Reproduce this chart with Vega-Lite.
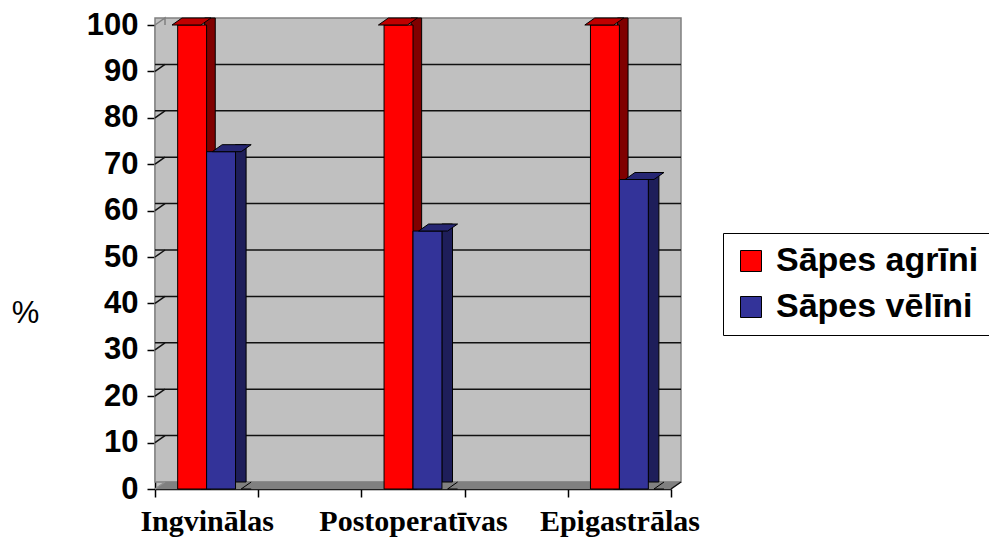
{
  "$schema": "https://vega.github.io/schema/vega-lite/v6.json",
  "autosize": "none",
  "width": 516,
  "height": 464,
  "padding": {"left": 155, "top": 25, "right": 318, "bottom": 48},
  "background": "white",
  "datasets": {
    "bars": [
      {"category": "Ingvinālas", "series": "Sāpes agrīni", "value": 100},
      {"category": "Ingvinālas", "series": "Sāpes vēlīni", "value": 72.7},
      {"category": "Postoperatīvas", "series": "Sāpes agrīni", "value": 100},
      {"category": "Postoperatīvas", "series": "Sāpes vēlīni", "value": 55.6},
      {"category": "Epigastrālas", "series": "Sāpes agrīni", "value": 100},
      {"category": "Epigastrālas", "series": "Sāpes vēlīni", "value": 66.7}
    ],
    "grid": [
      {"v": 10}, {"v": 20}, {"v": 30}, {"v": 40}, {"v": 50},
      {"v": 60}, {"v": 70}, {"v": 80}, {"v": 90}
    ]
  },
  "resolve": {"scale": {"xOffset": "independent"}},
  "layer": [
    {
      "description": "back wall",
      "data": {"values": [{}]},
      "mark": {"type": "rect", "fill": "#C0C0C0", "stroke": "#808080", "strokeWidth": 1.5, "xOffset": 10, "x2Offset": 10, "yOffset": -7, "y2Offset": -7},
      "encoding": {
        "y": {"datum": 100, "type": "quantitative", "scale": {"domain": [0, 100], "nice": false}, "title": "%"},
        "y2": {"datum": 0}
      }
    },
    {
      "description": "floor",
      "data": {"values": [{}]},
      "mark": {"type": "point", "shape": "M-258,0 L258,0 L268,-7 L-248,-7 Z", "size": 4, "filled": true, "fill": "#808080", "stroke": "#808080", "strokeWidth": 0.5, "opacity": 1},
      "encoding": {
        "x": {"datum": "Postoperatīvas", "type": "nominal", "scale": {"domain": ["Ingvinālas", " ", "Postoperatīvas", "  ", "Epigastrālas"], "paddingInner": 0, "paddingOuter": 0}, "title": null},
        "y": {"datum": 0, "type": "quantitative", "scale": {"domain": [0, 100], "nice": false}, "title": "%"}
      }
    },
    {
      "description": "gridlines on the back wall",
      "data": {"name": "grid"},
      "mark": {"type": "rule", "color": "#111111", "strokeWidth": 1.5, "xOffset": 10, "x2Offset": 10, "yOffset": -7, "y2Offset": -7},
      "encoding": {
        "y": {"field": "v", "type": "quantitative", "scale": {"domain": [0, 100], "nice": false}, "title": "%"}
      }
    },
    {
      "description": "gridlines on the side wall",
      "data": {"name": "grid"},
      "mark": {"type": "point", "shape": "M-51.6,0 L-41.6,-7", "size": 4, "filled": false, "stroke": "#111111", "strokeWidth": 1.5, "opacity": 1},
      "encoding": {
        "x": {"datum": "Ingvinālas", "type": "nominal", "scale": {"domain": ["Ingvinālas", " ", "Postoperatīvas", "  ", "Epigastrālas"], "paddingInner": 0, "paddingOuter": 0}, "title": null},
        "y": {"field": "v", "type": "quantitative", "scale": {"domain": [0, 100], "nice": false}, "title": "%"}
      }
    },
    {
      "description": "top corner of the side wall",
      "data": {"values": [{}]},
      "mark": {"type": "point", "shape": "M-51.6,0 L-41.6,-7 L-41.6,0", "size": 4, "filled": true, "fill": "#C0C0C0", "stroke": "#808080", "strokeWidth": 1.5, "opacity": 1},
      "encoding": {
        "x": {"datum": "Ingvinālas", "type": "nominal", "scale": {"domain": ["Ingvinālas", " ", "Postoperatīvas", "  ", "Epigastrālas"], "paddingInner": 0, "paddingOuter": 0}, "title": null},
        "y": {"datum": 100, "type": "quantitative", "scale": {"domain": [0, 100], "nice": false}, "title": "%"}
      }
    },
    {
      "description": "floor edges",
      "data": {"values": [{"c": "Ingvinālas", "edge": "M-51.6,0 L-41.6,-7", "col": "#909090"}, {"c": "Epigastrālas", "edge": "M51.6,0 L61.6,-7", "col": "#111111"}]},
      "mark": {"type": "point", "size": 4, "filled": false, "strokeWidth": 1.5, "opacity": 1},
      "encoding": {
        "x": {"field": "c", "type": "nominal", "scale": {"domain": ["Ingvinālas", " ", "Postoperatīvas", "  ", "Epigastrālas"], "paddingInner": 0, "paddingOuter": 0}, "title": null},
        "y": {"datum": 0, "type": "quantitative", "scale": {"domain": [0, 100], "nice": false}, "title": "%"},
        "shape": {"field": "edge", "type": "nominal", "scale": null},
        "stroke": {"field": "col", "type": "nominal", "scale": null}
      }
    },
    {
      "description": "column side faces",
      "data": {"name": "bars"},
      "mark": {"type": "bar", "yOffset": -7, "stroke": "black", "strokeWidth": 1},
      "encoding": {
        "x": {"field": "category", "type": "nominal", "scale": {"domain": ["Ingvinālas", " ", "Postoperatīvas", "  ", "Epigastrālas"], "paddingInner": 0, "paddingOuter": 0}, "title": null},
        "xOffset": {"field": "series", "type": "nominal", "scale": {"domain": ["Sāpes agrīni", "Sāpes vēlīni"], "paddingInner": 0.655, "paddingOuter": 1.107, "align": 0.804}},
        "y": {"field": "value", "type": "quantitative", "scale": {"domain": [0, 100], "nice": false}, "title": "%"},
        "fill": {"condition": {"test": "datum.series === 'Sāpes agrīni'", "value": "#800000"}, "value": "#1E1E5A"}
      }
    },
    {
      "description": "floor triangle at the foot of each side face",
      "data": {"name": "bars"},
      "mark": {"type": "point", "shape": "M24.47,0 L14.47,0 L24.47,-7", "size": 4, "filled": true, "fill": "#808080", "stroke": "black", "strokeWidth": 1, "opacity": 1},
      "encoding": {
        "x": {"field": "category", "type": "nominal", "scale": {"domain": ["Ingvinālas", " ", "Postoperatīvas", "  ", "Epigastrālas"], "paddingInner": 0, "paddingOuter": 0}, "title": null},
        "xOffset": {"field": "series", "type": "nominal", "scale": {"domain": ["Sāpes agrīni", "Sāpes vēlīni"], "paddingInner": 0, "paddingOuter": 0.783}},
        "y": {"datum": 0, "type": "quantitative", "scale": {"domain": [0, 100], "nice": false}, "title": "%"}
      }
    },
    {
      "description": "column front faces",
      "data": {"name": "bars"},
      "mark": {"type": "bar", "stroke": "black", "strokeWidth": 1},
      "encoding": {
        "x": {
          "field": "category", "type": "nominal",
          "scale": {"domain": ["Ingvinālas", " ", "Postoperatīvas", "  ", "Epigastrālas"], "paddingInner": 0, "paddingOuter": 0},
          "title": null,
          "axis": {
            "grid": false, "labelAngle": 0,
            "domainColor": "black", "domainWidth": 1.5,
            "tickColor": "black", "tickSize": 8, "tickWidth": 1.5, "tickBand": "extent",
            "labelFont": "Liberation Serif", "labelFontWeight": "bold", "labelFontSize": 30,
            "labelColor": "black", "labelPadding": 24, "labelLimit": 400,
            "labelAlign": "center"
          }
        },
        "xOffset": {"field": "series", "type": "nominal", "scale": {"domain": ["Sāpes agrīni", "Sāpes vēlīni"], "paddingInner": 0, "paddingOuter": 0.783}},
        "y": {
          "field": "value", "type": "quantitative",
          "scale": {"domain": [0, 100], "nice": false},
          "title": "%",
          "axis": {
            "titleAngle": 0, "titleFont": "Liberation Sans", "titleFontWeight": "normal",
            "titleFontSize": 31, "titleColor": "black", "titleX": -130, "titleY": 288,
            "titleAlign": "center", "titleBaseline": "middle",
            "values": [0, 10, 20, 30, 40, 50, 60, 70, 80, 90, 100], "grid": false,
            "domainColor": "black", "domainWidth": 1.5,
            "tickColor": "black", "tickSize": 8, "tickWidth": 1.5,
            "labelFont": "Liberation Sans", "labelFontWeight": "bold", "labelFontSize": 31,
            "labelColor": "black", "labelPadding": 9
          }
        },
        "color": {
          "field": "series", "type": "nominal",
          "scale": {"domain": ["Sāpes agrīni", "Sāpes vēlīni"], "range": ["#FF0000", "#333399"]},
          "legend": {
            "orient": "none", "legendX": 568, "legendY": 208, "title": null,
            "strokeColor": "black", "fillColor": "white", "padding": 11,
            "symbolType": "square", "symbolSize": 441, "symbolStrokeColor": "black", "symbolStrokeWidth": 1,
            "symbolOpacity": 1,
            "labelFont": "Liberation Sans", "labelFontWeight": "bold", "labelFontSize": 34,
            "labelColor": "black", "labelOffset": 8, "rowPadding": 12, "labelLimit": 400
          }
        }
      }
    },
    {
      "description": "column top faces",
      "data": {"name": "bars"},
      "mark": {"type": "point", "shape": "M-14.47,0 L14.47,0 L24.47,-7 L-4.53,-7 Z", "size": 4, "filled": true, "stroke": "black", "strokeWidth": 1, "opacity": 1},
      "encoding": {
        "x": {"field": "category", "type": "nominal", "scale": {"domain": ["Ingvinālas", " ", "Postoperatīvas", "  ", "Epigastrālas"], "paddingInner": 0, "paddingOuter": 0}, "title": null},
        "xOffset": {"field": "series", "type": "nominal", "scale": {"domain": ["Sāpes agrīni", "Sāpes vēlīni"], "paddingInner": 0, "paddingOuter": 0.783}},
        "y": {"field": "value", "type": "quantitative", "scale": {"domain": [0, 100], "nice": false}, "title": "%"},
        "fill": {"condition": {"test": "datum.series === 'Sāpes agrīni'", "value": "#C00000"}, "value": "#262673"}
      }
    }
  ],
  "config": {
    "view": {"stroke": null, "fill": "#C0C0C0"}
  }
}
